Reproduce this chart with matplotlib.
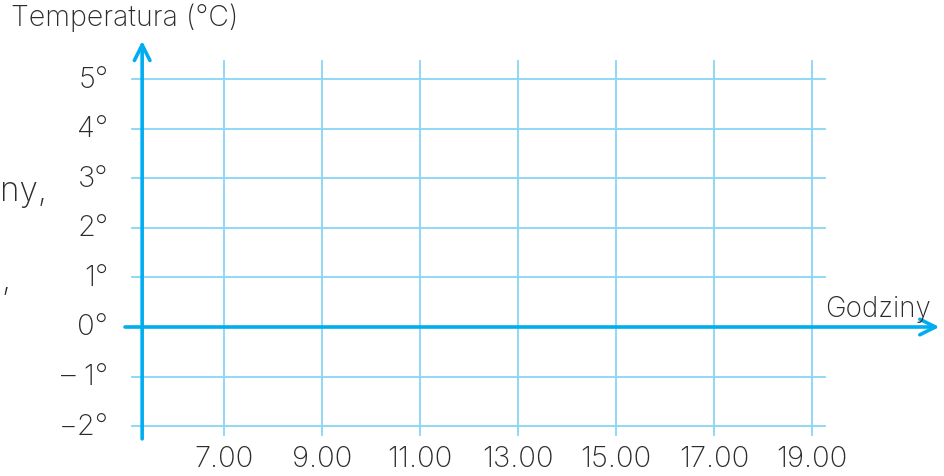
import matplotlib.pyplot as plt

plt.rcParams['font.family'] = ['Inter', 'DejaVu Sans']
plt.rcParams['font.weight'] = 'light'

hours = [7, 9, 11, 13, 15, 17, 19]
hour_labels = ['7.00', '9.00', '11.00', '13.00', '15.00', '17.00', '19.00']
temps = [5, 4, 3, 2, 1, 0, -1, -2]
temp_labels = ['5°', '4°', '3°', '2°', '1°', '0°', '\u2013 1°', '\u22122°']

grid_col = '#86d6f6'
axis_col = '#00aeef'
text_col = '#2b2b2b'

fig = plt.figure(figsize=(9.45, 4.77), dpi=100)
ax = fig.add_axes([0, 0, 1, 1])
ax.set_xlim(2.429, 21.714)
ax.set_ylim(-3.010, 6.626)
ax.axis('off')

# grid
for t in temps:
    if t != 0:
        ax.plot([5.12, 19.27], [t, t], color=grid_col, lw=1.3, zorder=1)
for h in hours:
    ax.plot([h, h], [-2.18, 5.37], color=grid_col, lw=1.3, zorder=1)

# axes with arrows
ax.annotate('', xy=(21.6, 0), xytext=(4.98, 0),
            arrowprops=dict(arrowstyle='->', color=axis_col, lw=2.6,
                            mutation_scale=28, shrinkA=0, shrinkB=0), zorder=3)
ax.annotate('', xy=(5.33, 5.78), xytext=(5.33, -2.26),
            arrowprops=dict(arrowstyle='->', color=axis_col, lw=2.6,
                            mutation_scale=28, shrinkA=0, shrinkB=0), zorder=3)

# labels
for t, lab in zip(temps, temp_labels):
    ax.text(4.64, t, lab, ha='right', va='center', fontsize=21, color=text_col)
for h, lab in zip(hours, hour_labels):
    ax.text(h, -2.65, lab, ha='center', va='center', fontsize=21, color=text_col)

ax.text(2.66, 6.26, 'Temperatura (°C)', ha='left', va='center', fontsize=20.5, color=text_col)
ax.text(21.43, 0.38, 'Godziny', ha='right', va='center', fontsize=20, color=text_col)

# fragments of page text on the left
ax.text(2.43, 2.75, 'ny,', ha='left', va='center', fontsize=24, color=text_col)
ax.text(2.45, 0.95, ',', ha='left', va='center', fontsize=24, color=text_col)

fig.savefig('out.png', dpi=100)
